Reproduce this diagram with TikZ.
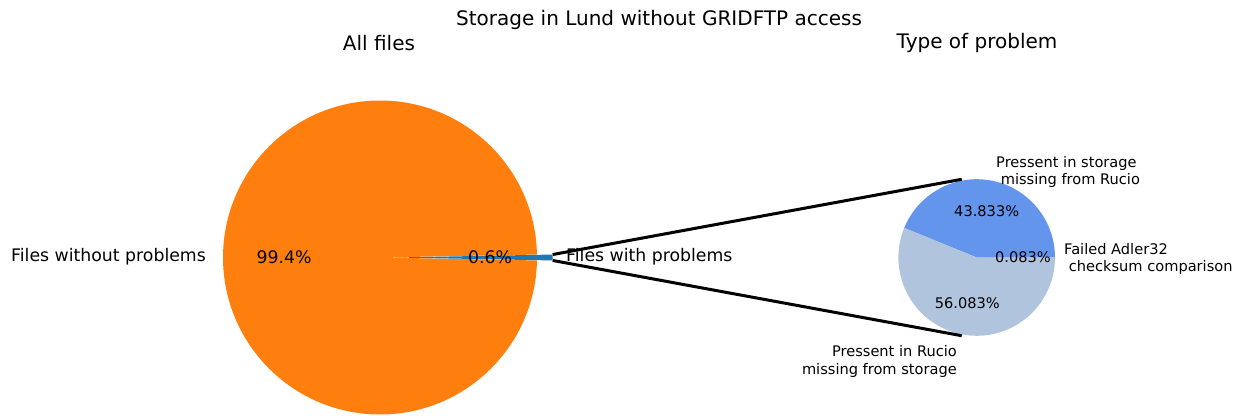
\documentclass[tikz,border=0pt]{standalone}
\usepackage{fontspec}
\setmainfont{DejaVu Sans}
\usetikzlibrary{calc}
\definecolor{mplorange}{HTML}{FF7F0E}
\definecolor{mplblue}{HTML}{1F77B4}
\definecolor{cornflower}{HTML}{6495ED}
\definecolor{steelpale}{HTML}{B0C4DE}
\begin{document}
\begin{tikzpicture}[x=1pt,y=1pt,
  titletext/.style={inner sep=0pt,font=\fontsize{20}{24}\selectfont},
  bigtext/.style={inner sep=0pt,font=\fontsize{17.3}{20.8}\selectfont},
  smalltext/.style={inner sep=0pt,font=\fontsize{14.6}{17.5}\selectfont},
  zoomline/.style={draw=black,line width=3pt}]
\useasboundingbox (0,0) rectangle (1244,-415);

% Titles
\node[titletext] (suptitle) at (659,-20) {Storage in Lund without GRIDFTP access};
\node[titletext] (lefttitle) at (379,-43) {All files};
\node[titletext] (righttitle) at (977,-43) {Type of problem};

% Left pie: all files
\coordinate (bigc) at (380,-257.5);
\fill[mplorange] (bigc) -- ++(1.08:157) arc[start angle=1.08,end angle=358.92,radius=157] -- cycle;
\coordinate (bluec) at (395.7,-257.5);
\fill[mplblue] (bluec) -- ++(-1.08:157) arc[start angle=-1.08,end angle=1.08,radius=157] -- cycle;
\coordinate (wedgetop) at ($(bluec)+(1.08:157)$);
\coordinate (wedgebot) at ($(bluec)+(-1.08:157)$);

\node[bigtext,anchor=east] (lblok) at (206,-257) {Files without problems};
\node[bigtext] (pctok) at (284,-257) {99.4\%};
\node[bigtext] (pctbad) at (490,-257) {0.6\%};

% Right pie: type of problem
\coordinate (smc) at (976.7,-257.5);
\fill[cornflower] (smc) -- ++(0:78.3) arc[start angle=0,end angle=157.8,radius=78.3] -- cycle;
\fill[steelpale] (smc) -- ++(157.8:78.3) arc[start angle=157.8,end angle=359.7,radius=78.3] -- cycle;
\coordinate (pietop) at (961.7,-179.3);
\coordinate (piebot) at (961.7,-335.7);

\node[smalltext] (pcta) at (986.7,-211) {43.833\%};
\node[smalltext] (pctb) at (967.3,-303.3) {56.083\%};
\node[smalltext] (pctc) at (1023,-257.5) {0.083\%};

\node[smalltext,anchor=west,align=left] (lbla) at (996,-172) {Pressent in storage\\\hspace*{0.318em}missing from Rucio};
\node[smalltext,anchor=west,align=left] (lblc) at (1064,-259) {Failed Adler32\\\hspace*{0.318em}checksum comparison};
\node[smalltext,anchor=east,align=right] (lblb) at (957,-361.5) {Pressent in Rucio\\missing from storage};

% Connectors between the pies
\draw[zoomline] (wedgetop) -- (pietop);
\draw[zoomline] (wedgebot) -- (piebot);

\node[bigtext,anchor=west] (lblbad) at (566,-257) {Files with problems};
\end{tikzpicture}
\end{document}
